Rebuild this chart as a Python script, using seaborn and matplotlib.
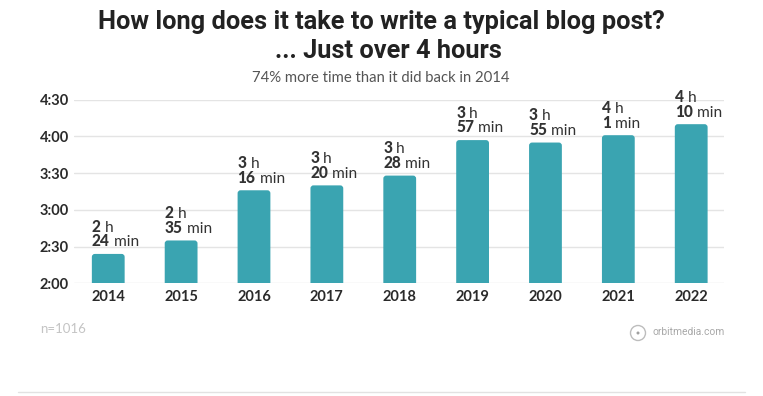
import matplotlib
matplotlib.use('Agg')
import matplotlib.pyplot as plt
import seaborn as sns
import pandas as pd
from matplotlib import font_manager
from matplotlib.patches import Ellipse, FancyBboxPatch

# ---- data ----
years = ['2014', '2015', '2016', '2017', '2018', '2019', '2020', '2021', '2022']
minutes = [144, 155, 196, 200, 208, 237, 235, 241, 250]
hours_lbl = ['2', '2', '3', '3', '3', '3', '3', '4', '4']
mins_lbl = ['24', '35', '16', '20', '28', '57', '55', '1', '10']
ytick_vals = [120, 150, 180, 210, 240, 270]
ytick_lbls = ['2:00', '2:30', '3:00', '3:30', '4:00', '4:30']

title1 = 'How long does it take to write a typical blog post?'
title2 = '... Just over 4 hours'
subtitle = '74% more time than it did back in 2014'
note = 'n=1016'
brand = 'orbitmedia.com'

sns.set_theme(style='white')
plt.rcParams['font.family'] = ['Lato', 'DejaVu Sans']

installed = {f.name for f in font_manager.fontManager.ttflist}
title_family = 'Liberation Sans Narrow' if 'Liberation Sans Narrow' in installed else 'Roboto'

W, H = 763, 396
fig = plt.figure(figsize=(W / 100, H / 100), dpi=100)
fig.patch.set_facecolor('white')

ax = fig.add_axes([74 / W, 1 - 283.3 / H, (724 - 74) / W, (283.3 - 99.7) / H])
df = pd.DataFrame({'year': years, 'minutes': minutes})
bw = 0.45
bar_color = '#3aa4b1'
sns.barplot(data=df, x='year', y='minutes', color=bar_color, saturation=1,
            width=bw, ax=ax, zorder=3)

ax.set_ylim(120, 270)
ax.set_xlim(-0.47, 8.45)

# rounded bar tops (replace seaborn rectangles by rounded copies)
px_per_x = (724 - 74) / (8.45 + 0.47)
px_per_y = (283.3 - 99.7) / 150
rad_px = 3.0
rx = rad_px / px_per_x
asp = (rad_px / px_per_y) / rx
for p in list(ax.patches):
    x0, y0 = p.get_x(), p.get_y()
    w, h = p.get_width(), p.get_height()
    fb = FancyBboxPatch((x0, y0), w, h,
                        boxstyle=f'round,pad=0,rounding_size={rx}',
                        mutation_aspect=asp, facecolor=bar_color,
                        edgecolor='none', zorder=3)
    ax.add_patch(fb)
    p.set_visible(False)

ax.set_yticks(ytick_vals)
ax.set_yticklabels(ytick_lbls)
for t in ax.get_yticklabels():
    t.set_ha('left')
ax.tick_params(axis='y', length=0, pad=34 * 0.72, labelsize=10.5, colors='#2a2a2a')
ax.tick_params(axis='x', length=0, pad=5, labelsize=10.5, colors='#2a2a2a')
for t in ax.get_yticklabels() + ax.get_xticklabels():
    t.set_fontweight('bold')
ax.set_xlabel('')
ax.set_ylabel('')
ax.grid(axis='y', color='#e4e4e4', linewidth=1, zorder=0)
ax.set_axisbelow(True)
for s in ax.spines.values():
    s.set_visible(False)

# ---- value labels ----
fs = 11.2
col = '#333333'
for i, (v, hh, mm) in enumerate(zip(minutes, hours_lbl, mins_lbl)):
    xl = i - bw / 2
    a = ax.annotate(mm, xy=(xl, v), xytext=(0, 5.5), textcoords='offset points',
                    ha='left', va='baseline', fontsize=fs, fontweight='black',
                    color=col, annotation_clip=False)
    ax.annotate(' min', xy=(1, 0), xycoords=a, ha='left', va='bottom',
                fontsize=fs, color=col, annotation_clip=False)
    b = ax.annotate(hh, xy=(xl, v), xytext=(0, 5.5 + 10.6), textcoords='offset points',
                    ha='left', va='baseline', fontsize=fs, fontweight='black',
                    color=col, annotation_clip=False)
    ax.annotate(' h', xy=(1, 0), xycoords=b, ha='left', va='bottom',
                fontsize=fs, color=col, annotation_clip=False)

# ---- titles ----
tkw = dict(ha='center', va='center', fontweight='bold', color='#222222',
           family=[title_family, 'DejaVu Sans'])
t1 = fig.text(381.5 / W, 1 - 22.5 / H, title1, fontsize=19, **tkw)
t2 = fig.text(388 / W, 1 - 51 / H, title2, fontsize=19, **tkw)
fig.canvas.draw()
r = fig.canvas.get_renderer()
w1 = t1.get_window_extent(r).width
scale = 567 / w1
t1.set_fontsize(19 * scale)
t2.set_fontsize(19 * scale)

fig.text(381 / W, 1 - 78.5 / H, subtitle, ha='center', va='center', fontsize=10.7,
         color='#555555')
fig.text(40 / W, 1 - 329 / H, note, ha='left', va='center', fontsize=9.5,
         color='#c4c4c4')
fig.text(725 / W, 1 - 332 / H, brand, ha='right', va='center', fontsize=7.4,
         color='#a8a8a8', family=[title_family, 'DejaVu Sans'])
fig.patches.append(Ellipse((638 / W, 1 - 333 / H), 15 / W, 15 / H,
                           transform=fig.transFigure, fill=False,
                           edgecolor='#bdbdbd', linewidth=1))
fig.patches.append(Ellipse((638 / W, 1 - 333 / H), 3 / W, 3 / H,
                           transform=fig.transFigure, facecolor='#a0a0a0',
                           edgecolor='none'))
fig.add_artist(plt.Line2D([18 / W, 745 / W], [1 - 392 / H, 1 - 392 / H],
                          transform=fig.transFigure, color='#e2e2e2', linewidth=1))

fig.savefig('out.png', dpi=100, facecolor='white')
